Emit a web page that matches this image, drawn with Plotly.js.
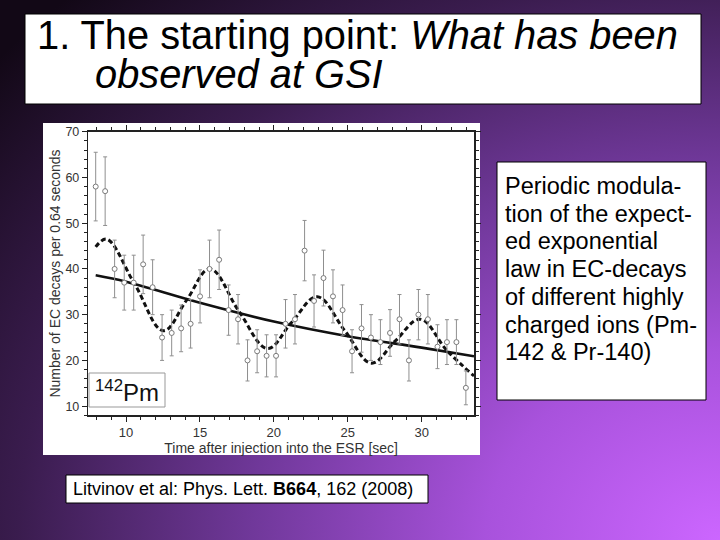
<!DOCTYPE html>
<html>
<head>
<meta charset="utf-8">
<script src="https://cdn.plot.ly/plotly-3.0.1.min.js"></script>
<style>
html,body{margin:0;padding:0;width:720px;height:540px;overflow:hidden;}
body{background: radial-gradient(ellipse 130% 140% at 100% 100%, #cc66ff 0%, #a852dc 25%, #70389a 50%, #3a1c4e 75%, #120816 100%);}
#chart{width:720px;height:540px;}
</style>
</head>
<body>
<div id="chart"></div>
<script>
// Measured data (Pm-142 EC decays)
const times = [7.95, 8.59, 9.23, 9.88, 10.52, 11.16, 11.80, 12.44, 13.09, 13.73,
  14.37, 15.01, 15.65, 16.30, 16.94, 17.58, 18.22, 18.87, 19.51, 20.15,
  20.79, 21.43, 22.08, 22.72, 23.36, 24.00, 24.65, 25.29, 25.93, 26.57,
  27.21, 27.86, 28.50, 29.14, 29.78, 30.42, 31.07, 31.71, 32.35, 32.99];
const counts = [58, 57, 40, 37, 37, 41, 36, 25, 26, 27,
  28, 34, 40, 42, 31, 29, 20, 22, 21, 21,
  28, 29, 44, 33, 38, 34, 31, 22, 27, 25,
  24, 26, 29, 20, 30, 29, 23, 24, 24, 14];
const errors = [7.5, 7.5, 6.3, 6.0, 6.0, 6.4, 6.0, 5.0, 5.0, 5.1,
  5.3, 5.8, 6.3, 6.5, 5.5, 5.4, 4.5, 4.7, 4.6, 4.6,
  5.3, 5.4, 6.6, 5.7, 6.1, 5.8, 5.5, 4.7, 5.2, 5.0,
  4.9, 5.1, 5.4, 4.5, 5.5, 5.4, 4.8, 4.9, 4.9, 3.7];

// Exponential fit (solid)
const expX = [7.95, 10, 15, 20, 25, 30, 33.54];
const expY = [38.6, 37.2, 32.6, 28.5, 25.3, 22.8, 20.9];

// Modulated fit (dashed)
const modX = [7.95, 8.69, 10.6, 12.53, 14.1, 15.68, 17.63, 19.58, 21.2, 22.94, 24.8, 26.6, 28.2, 29.9, 31.7, 33.54];
const modY = [44.8, 46.5, 36.6, 26.5, 33.2, 40.0, 30.8, 22.6, 28.3, 33.9, 26.5, 19.4, 24.2, 29.0, 22.2, 16.6];

const titleLines = ["1. The starting point: <i>What has been</i>", "<i>observed at GSI</i>"];
const noteLines = ["Periodic modula-", "tion of the expect-", "ed exponential", "law in EC-decays",
  "of different highly", "charged ions (Pm-", "142 & Pr-140)"];
const citation = "Litvinov et al: Phys. Lett. <b>B664</b>, 162 (2008)";
const xTitle = "Time after injection into the ESR [sec]";
const yTitle = "Number of EC decays per 0.64 seconds";
const isotope = "<sup>142</sup>Pm";

const W = 720, H = 540;
const px = v => v / W;
const py = v => 1 - v / H;

const traces = [
  {x: expX, y: expY, mode: 'lines', line: {color: '#111', width: 2.6, shape: 'spline'}, hoverinfo: 'skip'},
  {x: modX, y: modY, mode: 'lines', line: {color: '#111', width: 3, dash: '5px,3px', shape: 'spline', smoothing: 1.1}, hoverinfo: 'skip'},
  {x: times, y: counts, mode: 'markers',
   error_y: {type: 'data', array: errors, visible: true, color: '#8f8f8f', thickness: 1, width: 2},
   marker: {symbol: 'circle', size: 5, color: '#fff', line: {width: 1, color: '#7a7a7a'}}}
];

const font = "Liberation Sans, Arial, sans-serif";
const annotations = [];
annotations.push({xref: 'paper', yref: 'paper', x: px(35), y: py(35), xanchor: 'left', yanchor: 'middle',
  text: titleLines[0], showarrow: false, font: {family: font, size: 39.8, color: '#000'}});
annotations.push({xref: 'paper', yref: 'paper', x: px(93), y: py(74), xanchor: 'left', yanchor: 'middle',
  text: titleLines[1], showarrow: false, font: {family: font, size: 39.8, color: '#000'}});
noteLines.forEach((t, i) => {
  annotations.push({xref: 'paper', yref: 'paper', x: px(503), y: py(186 + 27.7 * i), xanchor: 'left', yanchor: 'middle',
    text: t, showarrow: false, font: {family: font, size: 23.5, color: '#000'}});
});
annotations.push({xref: 'paper', yref: 'paper', x: px(71), y: py(489), xanchor: 'left', yanchor: 'middle',
  text: citation, showarrow: false, font: {family: font, size: 18, color: '#000'}});
annotations.push({xref: 'paper', yref: 'paper', x: px(127), y: py(391), xanchor: 'center', yanchor: 'middle',
  text: isotope, showarrow: false, font: {family: font, size: 24, color: '#111'}});

const shapes = [
  {type: 'rect', xref: 'paper', yref: 'paper', x0: px(25), x1: px(701), y0: py(14), y1: py(104),
   fillcolor: '#fff', line: {color: '#000', width: 1}, layer: 'below'},
  {type: 'rect', xref: 'paper', yref: 'paper', x0: px(43), x1: px(480), y0: py(123), y1: py(455),
   fillcolor: '#fff', line: {width: 0}, layer: 'below'},
  {type: 'rect', xref: 'paper', yref: 'paper', x0: px(497), x1: px(706), y0: py(162), y1: py(400),
   fillcolor: '#fff', line: {color: '#000', width: 1}, layer: 'below'},
  {type: 'rect', xref: 'paper', yref: 'paper', x0: px(66), x1: px(428), y0: py(475), y1: py(503),
   fillcolor: '#fff', line: {color: '#000', width: 1}, layer: 'below'},
  {type: 'rect', xref: 'paper', yref: 'paper', x0: px(89), x1: px(165), y0: py(373), y1: py(407),
   fillcolor: 'rgba(0,0,0,0)', line: {color: '#999', width: 1}}
];

const layout = {
  width: W, height: H,
  margin: {l: 0, r: 0, t: 0, b: 0},
  paper_bgcolor: 'rgba(0,0,0,0)',
  plot_bgcolor: '#fff',
  showlegend: false,
  xaxis: {
    domain: [px(88.3), px(474)], range: [7.45, 33.54],
    tickvals: [10, 15, 20, 25, 30], ticks: 'outside', ticklen: 5, tickcolor: '#222',
    minor: {dtick: 1, tick0: 0, ticks: 'outside', ticklen: 3, tickcolor: '#222'},
    showline: true, linecolor: '#222', linewidth: 1.5, mirror: 'ticks',
    showgrid: false, zeroline: false,
    tickfont: {family: font, size: 13, color: '#333'},
    title: {text: xTitle, font: {family: font, size: 14, color: '#333'}, standoff: 3}
  },
  yaxis: {
    domain: [py(415.3), py(131.7)], range: [8, 70],
    tickvals: [10, 20, 30, 40, 50, 60, 70], ticks: 'outside', ticklen: 5, tickcolor: '#222',
    minor: {dtick: 2, tick0: 0, ticks: 'outside', ticklen: 3, tickcolor: '#222'},
    showline: true, linecolor: '#222', linewidth: 1.5, mirror: 'ticks',
    showgrid: false, zeroline: false,
    tickfont: {family: font, size: 12.5, color: '#333'},
    title: {text: yTitle, font: {family: font, size: 14, color: '#333'}, standoff: 1}
  },
  shapes: shapes,
  annotations: annotations
};

Plotly.newPlot('chart', traces, layout, {displayModeBar: false, staticPlot: true});
</script>
</body>
</html>
